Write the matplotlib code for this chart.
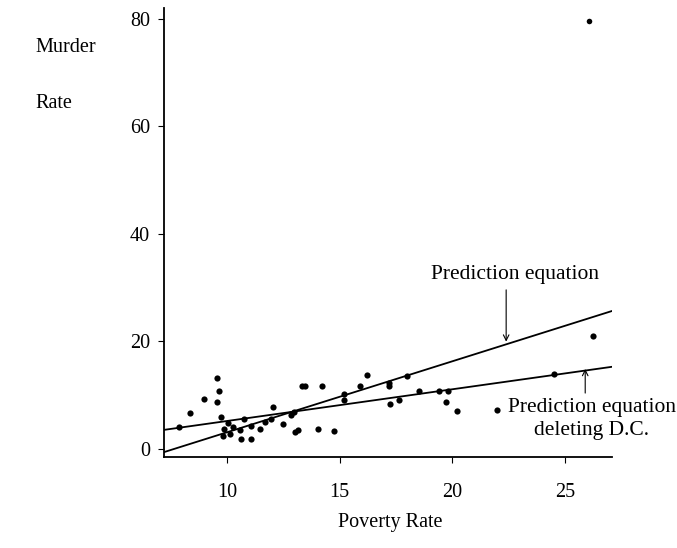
import matplotlib
matplotlib.use("Agg")
import matplotlib.pyplot as plt
import numpy as np

# Poverty rate (%) and murder rate (per 100,000) for the states and D.C.
poverty = [7.87, 8.37, 8.97, 9.54, 9.65, 9.56, 9.76, 10.06, 9.87, 10.28,
           9.81, 10.16, 10.58, 10.62, 10.74, 11.07, 11.07, 11.47, 11.69, 11.96,
           12.06, 12.47, 12.85, 12.97, 13.02, 13.15, 13.32, 13.47, 14.24, 14.06,
           14.77, 15.20, 15.20, 15.93, 16.23, 17.21, 17.22, 18.01, 17.23, 17.64,
           18.53, 19.42, 19.81, 19.72, 20.22, 22.01, 24.53, 26.24]
murder = [4.0, 6.6, 9.3, 13.2, 10.8, 8.7, 6.0, 4.9, 3.8, 4.0,
          2.5, 2.8, 3.6, 1.9, 5.5, 4.2, 1.9, 3.7, 5.0, 5.6,
          7.8, 4.6, 6.3, 6.8, 3.2, 3.5, 11.8, 11.8, 11.7, 3.7,
          3.3, 10.3, 9.1, 11.8, 13.8, 12.2, 11.8, 13.5, 8.3, 9.2,
          10.8, 10.7, 10.8, 8.8, 7.1, 7.3, 14.0, 21.0]
dc_poverty = [26.1]
dc_murder = [79.7]

# Least-squares lines: with D.C. and without D.C. (intercept, slope)
fit_all = (-10.1, 1.32)
fit_no_dc = (-0.7, 0.59)

xticks = [10, 15, 20, 25]
yticks = [0, 20, 40, 60, 80]

serif = "Liberation Serif"
fs = 14.5
fs_note = 15.5

fig = plt.figure(figsize=(6.77, 5.48), dpi=100)
ax = fig.add_axes([0.242, 0.166, 0.662, 0.819])

ax.set_xlim(7.2, 27.1)
ax.set_ylim(-1.5, 82)

ax.scatter(poverty, murder, s=20, color="black", zorder=3, linewidths=0)
ax.scatter(dc_poverty, dc_murder, s=16, color="black", zorder=3, linewidths=0)

xs = np.array(ax.get_xlim())
for b0, b1 in (fit_all, fit_no_dc):
    ax.plot(xs, b0 + b1 * xs, color="black", lw=1.3, zorder=2)

for side in ("top", "right"):
    ax.spines[side].set_visible(False)
for side in ("left", "bottom"):
    ax.spines[side].set_linewidth(1.3)

ax.set_xticks(xticks)
ax.set_yticks(yticks)
ax.tick_params(axis="x", direction="out", length=4, width=0.8, pad=15,
               labelsize=fs)
ax.tick_params(axis="y", direction="out", length=4, width=0.8, pad=6,
               labelsize=fs)
for lab in ax.get_xticklabels() + ax.get_yticklabels():
    lab.set_fontfamily(serif)

# Axis titles
fig.text(35 / 677, 1 - 48 / 548, "Murder", family=serif, fontsize=fs,
         ha="left", va="center")
fig.text(35 / 677, 1 - 103 / 548, "Rate", family=serif, fontsize=fs,
         ha="left", va="center")
fig.text(390 / 677, 1 - 522 / 548, "Poverty Rate", family=serif, fontsize=fs,
         ha="center", va="center")

# Line annotations: label text plus a vertical pointer to each line
arrow = dict(arrowstyle="->", color="black", lw=0.8, shrinkA=0, shrinkB=0)

ax.text(22.8, 32.4, "Prediction equation", family=serif, fontsize=fs_note,
        ha="center", va="center")
x_a = 22.4
ax.annotate("", xy=(x_a, fit_all[0] + fit_all[1] * x_a + 0.5),
            xytext=(x_a, 29.6), arrowprops=arrow)

ax.text(26.2, 5.6, "Prediction equation\ndeleting D.C.", family=serif,
        fontsize=fs_note, ha="center", va="center", linespacing=1.25,
        clip_on=False)
x_b = 25.91
ax.annotate("", xy=(x_b, fit_no_dc[0] + fit_no_dc[1] * x_b + 0.3),
            xytext=(x_b, 10.4), arrowprops=arrow, annotation_clip=False)

fig.savefig("out.png", dpi=100, facecolor="white")
